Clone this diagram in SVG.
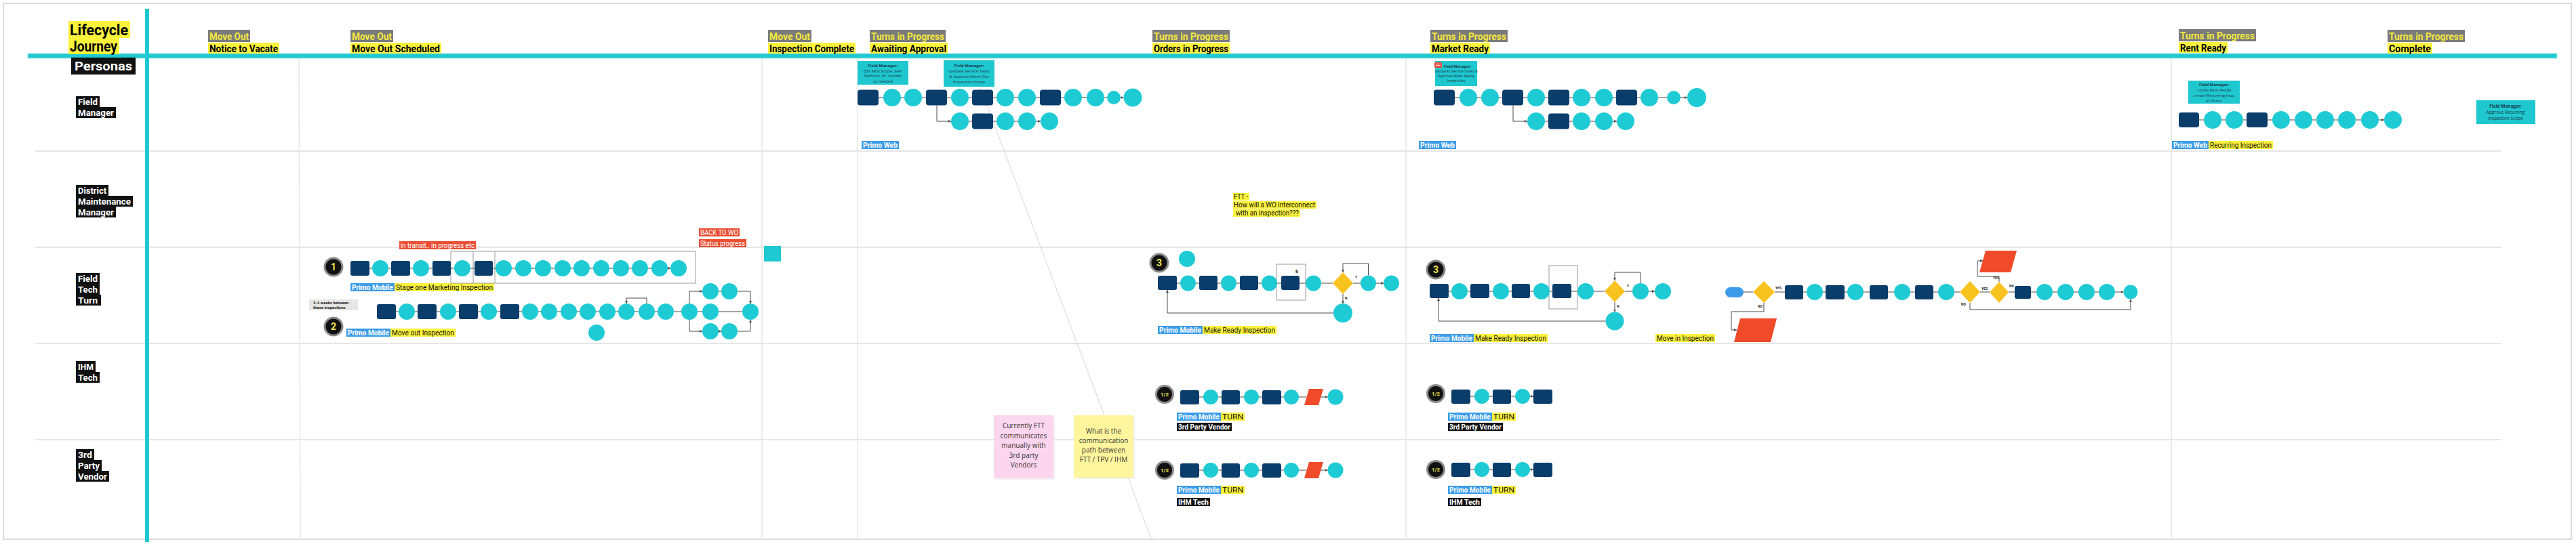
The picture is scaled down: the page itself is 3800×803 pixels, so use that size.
<svg xmlns="http://www.w3.org/2000/svg" width="3800" height="803" viewBox="0 0 3800 803">
<style>
.nr{fill:#0b3d6b}
.nc{fill:#1ecbd4}
.nd{fill:#f9c31f}
.np{fill:#ef4b2b}
.ln{stroke:#4a4a4a;stroke-width:1;fill:none}
.ar{marker-end:url(#m)}
.lane{stroke:#e6e6e6;stroke-width:2}
.col{stroke:#e6e6e6;stroke-width:1.5}
.hg{fill:#7b7b7b}
.hy{fill:#fbf23c}
.ht{font-family:Roboto,'Liberation Sans',sans-serif;font-weight:700;font-size:15px}
.pt{font-family:Roboto,'Liberation Sans',sans-serif;font-weight:700;font-size:13px;fill:#fff}
.pb{fill:#111}
.lb{fill:#3c9ce8}
.lbt{font-family:Roboto,'Liberation Sans',sans-serif;font-weight:700;font-size:11px;fill:#fff}
.lyt{font-family:Roboto,'Liberation Sans',sans-serif;font-size:11px;fill:#111}
.fm{fill:#1fc7cf}
.fmt{font-family:'Open Sans','Noto Sans',sans-serif;font-size:6px;fill:#1b3a4a;text-anchor:middle}
.bdg{fill:#111;stroke:#8a8a8a;stroke-width:3}
.bt{font-family:Roboto,'Liberation Sans',sans-serif;font-weight:700;fill:#f2e64a;text-anchor:middle}
.yn{font-family:Roboto,'Liberation Sans',sans-serif;font-weight:700;font-size:5px;fill:#222}
.frm{fill:none;stroke:#9a9a9a;stroke-width:1}
.st{font-family:'Open Sans','Noto Sans',sans-serif;font-size:10px;fill:#333;text-anchor:middle}
.rl{fill:#ea4f34}
.rlt{font-family:Roboto,'Liberation Sans',sans-serif;font-size:10px;fill:#fff}
</style>
<defs>
<marker id="m" viewBox="0 0 6 6" refX="6" refY="3" markerWidth="4" markerHeight="4" markerUnits="userSpaceOnUse" orient="auto"><path d="M0,0L6,3L0,6z" fill="#4a4a4a"/></marker>
</defs>
<rect x="0" y="0" width="3800" height="803" fill="#fff"/>
<rect x="5" y="5" width="3788" height="791" fill="none" stroke="#cfcfcf" stroke-width="1.5"/>

<!-- grid -->
<g id="grid">
<line class="lane" x1="52" y1="223" x2="3690" y2="223"/>
<line class="lane" x1="52" y1="365" x2="3690" y2="365"/>
<line class="lane" x1="52" y1="507" x2="3690" y2="507"/>
<line class="lane" x1="52" y1="649" x2="3690" y2="649"/>
<line class="col" x1="441" y1="86" x2="443" y2="797"/>
<line class="col" x1="1124" y1="86" x2="1124" y2="797"/>
<line class="col" x1="1265" y1="86" x2="1265" y2="797"/>
<line class="col" x1="2074" y1="86" x2="2074" y2="797"/>
<line class="col" x1="3203" y1="86" x2="3203" y2="797"/>
<line x1="1428" y1="82" x2="1700" y2="800" stroke="#d6d6d6" stroke-width="1"/>
<rect x="41" y="79" width="3731" height="7" fill="#1fc9d1" stroke="#9fe6ea" stroke-width="1"/>
<rect x="214" y="13" width="6" height="787" fill="#1fc9d1"/>
</g>

<!-- header -->
<g id="title">
<rect class="hy" x="101" y="31" width="91" height="25"/>
<rect class="hy" x="101" y="56" width="75" height="24"/>
<text class="ht" x="103" y="52" textLength="86" lengthAdjust="spacingAndGlyphs" style="font-size:22px">Lifecycle</text>
<text class="ht" x="103" y="76" textLength="70" lengthAdjust="spacingAndGlyphs" style="font-size:22px">Journey</text>
</g>
<g id="h1"><rect class="hg" x="307" y="44" width="62" height="18"/><text class="ht" x="309" y="59" fill="#f3e93c" textLength="58" lengthAdjust="spacingAndGlyphs">Move Out</text><rect class="hy" x="307" y="63" width="105" height="16"/><text class="ht" x="309" y="77" textLength="101" lengthAdjust="spacingAndGlyphs">Notice to Vacate</text></g>
<g id="h2"><rect class="hg" x="517" y="44" width="63" height="18"/><text class="ht" x="519" y="59" fill="#f3e93c" textLength="59" lengthAdjust="spacingAndGlyphs">Move Out</text><rect class="hy" x="517" y="63" width="134" height="16"/><text class="ht" x="519" y="77" textLength="130" lengthAdjust="spacingAndGlyphs">Move Out  Scheduled</text></g>
<g id="h3"><rect class="hg" x="1133" y="44" width="64" height="18"/><text class="ht" x="1135" y="59" fill="#f3e93c" textLength="60" lengthAdjust="spacingAndGlyphs">Move Out</text><rect class="hy" x="1133" y="63" width="129" height="16"/><text class="ht" x="1135" y="77" textLength="125" lengthAdjust="spacingAndGlyphs">Inspection Complete</text></g>
<g id="h4"><rect class="hg" x="1283" y="44" width="112" height="18"/><text class="ht" x="1285" y="59" fill="#f3e93c" textLength="108" lengthAdjust="spacingAndGlyphs">Turns in Progress</text><rect class="hy" x="1283" y="63" width="115" height="16"/><text class="ht" x="1285" y="77" textLength="111" lengthAdjust="spacingAndGlyphs">Awaiting Approval</text></g>
<g id="h5"><rect class="hg" x="1700" y="44" width="114" height="18"/><text class="ht" x="1702" y="59" fill="#f3e93c" textLength="110" lengthAdjust="spacingAndGlyphs">Turns in Progress</text><rect class="hy" x="1700" y="63" width="114" height="16"/><text class="ht" x="1702" y="77" textLength="110" lengthAdjust="spacingAndGlyphs">Orders in Progress</text></g>
<g id="h6"><rect class="hg" x="2110" y="44" width="114" height="18"/><text class="ht" x="2112" y="59" fill="#f3e93c" textLength="110" lengthAdjust="spacingAndGlyphs">Turns in Progress</text><rect class="hy" x="2110" y="63" width="88" height="16"/><text class="ht" x="2112" y="77" textLength="84" lengthAdjust="spacingAndGlyphs">Market Ready</text></g>
<g id="h7"><rect class="hg" x="3214" y="43" width="114" height="18"/><text class="ht" x="3216" y="58" fill="#f3e93c" textLength="110" lengthAdjust="spacingAndGlyphs">Turns in Progress</text><rect class="hy" x="3214" y="62" width="72" height="16"/><text class="ht" x="3216" y="76" textLength="68" lengthAdjust="spacingAndGlyphs">Rent Ready</text></g>
<g id="h8"><rect class="hg" x="3522" y="44" width="114" height="18"/><text class="ht" x="3524" y="59" fill="#f3e93c" textLength="110" lengthAdjust="spacingAndGlyphs">Turns in Progress</text><rect class="hy" x="3522" y="63" width="66" height="16"/><text class="ht" x="3524" y="77" textLength="62" lengthAdjust="spacingAndGlyphs">Complete</text></g>

<!-- personas -->
<g id="personas"><rect class="pb" x="105" y="85" width="95" height="25"/><text class="pt" x="110" y="104" style="font-size:18px" textLength="85" lengthAdjust="spacingAndGlyphs">Personas</text></g>
<g id="p-fm"><rect class="pb" x="112" y="142" width="35" height="16"/><rect class="pb" x="112" y="158" width="59" height="16"/><text class="pt" x="115" y="155" textLength="29" lengthAdjust="spacingAndGlyphs">Field</text><text class="pt" x="115" y="171" textLength="53" lengthAdjust="spacingAndGlyphs">Manager</text></g>
<g id="p-dmm"><rect class="pb" x="112" y="273" width="48" height="16"/><rect class="pb" x="112" y="289" width="84" height="16"/><rect class="pb" x="112" y="305" width="59" height="16"/><text class="pt" x="115" y="286" textLength="42" lengthAdjust="spacingAndGlyphs">District</text><text class="pt" x="115" y="302" textLength="78" lengthAdjust="spacingAndGlyphs">Maintenance</text><text class="pt" x="115" y="318" textLength="53" lengthAdjust="spacingAndGlyphs">Manager</text></g>
<g id="p-ftt"><rect class="pb" x="112" y="403" width="35" height="16"/><rect class="pb" x="112" y="419" width="35" height="16"/><rect class="pb" x="112" y="435" width="37" height="16"/><text class="pt" x="115" y="416" textLength="29" lengthAdjust="spacingAndGlyphs">Field</text><text class="pt" x="115" y="432" textLength="29" lengthAdjust="spacingAndGlyphs">Tech</text><text class="pt" x="115" y="448" textLength="29" lengthAdjust="spacingAndGlyphs">Turn</text></g>
<g id="p-ihm"><rect class="pb" x="112" y="533" width="29" height="16"/><rect class="pb" x="112" y="549" width="35" height="16"/><text class="pt" x="115" y="546" textLength="23" lengthAdjust="spacingAndGlyphs">IHM</text><text class="pt" x="115" y="562" textLength="29" lengthAdjust="spacingAndGlyphs">Tech</text></g>
<g id="p-3pv"><rect class="pb" x="112" y="663" width="27" height="16"/><rect class="pb" x="112" y="679" width="38" height="16"/><rect class="pb" x="112" y="695" width="49" height="16"/><text class="pt" x="115" y="676" textLength="21" lengthAdjust="spacingAndGlyphs">3rd</text><text class="pt" x="115" y="692" textLength="32" lengthAdjust="spacingAndGlyphs">Party</text><text class="pt" x="115" y="708" textLength="43" lengthAdjust="spacingAndGlyphs">Vendor</text></g>

<!-- Field manager notes -->
<g id="fmA1"><rect class="fm" x="1265" y="90" width="75" height="35"/><text class="fmt" x="1302.5" y="98.5" font-weight="700">Field Manager:</text><text class="fmt" x="1302.5" y="106.5">Edit MOI Scope, Self-</text><text class="fmt" x="1302.5" y="114">Perform, IH, Vendor</text><text class="fmt" x="1302.5" y="121.5">as needed</text></g>
<g id="fmA2"><rect class="fm" x="1392" y="89" width="75" height="39"/><text class="fmt" x="1429.5" y="98.5" font-weight="700">Field Manager:</text><text class="fmt" x="1429.5" y="107">Validate Service Tasks</text><text class="fmt" x="1429.5" y="115">&amp; Approve Move Out</text><text class="fmt" x="1429.5" y="123">Inspection Scope</text></g>
<g id="fmB"><rect class="fm" x="2117" y="90" width="62" height="37"/><rect x="2116" y="92" width="11" height="8" rx="1.5" fill="#e8483f"/><path d="M2118,94.5h7M2118,96.5h7" stroke="#fff" stroke-width="0.8"/><text class="fmt" x="2150" y="100" font-weight="700" style="font-size:5.5px">Field Manager:</text><text class="fmt" x="2148" y="107" style="font-size:5.5px">Validates Service Tasks &amp;</text><text class="fmt" x="2148" y="114" style="font-size:5.5px">Approve Make Ready</text><text class="fmt" x="2148" y="121" style="font-size:5.5px">Inspection</text></g>
<g id="fmC1"><rect class="fm" x="3228" y="119" width="76" height="34"/><text class="fmt" x="3266" y="127" font-weight="700">Field Manager:</text><text class="fmt" x="3266" y="135">&lt;2wks Rent Ready</text><text class="fmt" x="3266" y="143">create Recurring Insp</text><text class="fmt" x="3266" y="151">in Primo</text></g>
<g id="fmC2"><rect class="fm" x="3653" y="148" width="87" height="35"/><text class="fmt" x="3696" y="159" font-weight="700" style="font-size:6.5px">Field Manager:</text><text class="fmt" x="3696" y="168" style="font-size:6.5px">Approve Recurring</text><text class="fmt" x="3696" y="177" style="font-size:6.5px">Inspection Scope</text></g>

<!-- labels -->
<g id="lbA"><rect class="lb" x="1271" y="208" width="55" height="12"/><text class="lbt" x="1273" y="218" textLength="51" lengthAdjust="spacingAndGlyphs">Primo Web</text></g>
<g id="lbB"><rect class="lb" x="2093" y="208" width="55" height="12"/><text class="lbt" x="2095" y="218" textLength="51" lengthAdjust="spacingAndGlyphs">Primo Web</text></g>
<g id="lbC"><rect class="lb" x="3204" y="208" width="54" height="12"/><text class="lbt" x="3206" y="218" textLength="50" lengthAdjust="spacingAndGlyphs">Primo Web</text><rect class="hy" x="3258" y="208" width="95" height="12"/><text class="lyt" x="3260" y="218" textLength="91" lengthAdjust="spacingAndGlyphs">Recurring Inspection</text></g>
<g id="lbD1"><rect class="lb" x="517" y="418" width="65" height="12"/><text class="lbt" x="519" y="428" textLength="61" lengthAdjust="spacingAndGlyphs">Primo Mobile</text><rect class="hy" x="582" y="418" width="147" height="12"/><text class="lyt" x="584" y="428" textLength="143" lengthAdjust="spacingAndGlyphs">Stage one Marketing Inspection</text></g>
<g id="lbD2"><rect class="lb" x="511" y="485" width="65" height="12"/><text class="lbt" x="513" y="495" textLength="61" lengthAdjust="spacingAndGlyphs">Primo Mobile</text><rect class="hy" x="576" y="485" width="96" height="12"/><text class="lyt" x="578" y="495" textLength="92" lengthAdjust="spacingAndGlyphs">Move out Inspection</text></g>
<g id="lbE"><rect class="lb" x="1708" y="481" width="66" height="12"/><text class="lbt" x="1710" y="491" textLength="62" lengthAdjust="spacingAndGlyphs">Primo Mobile</text><rect class="hy" x="1774" y="481" width="109" height="12"/><text class="lyt" x="1776" y="491" textLength="105" lengthAdjust="spacingAndGlyphs">Make Ready Inspection</text></g>
<g id="lbF"><rect class="lb" x="2109" y="493" width="65" height="12"/><text class="lbt" x="2111" y="503" textLength="61" lengthAdjust="spacingAndGlyphs">Primo Mobile</text><rect class="hy" x="2174" y="493" width="109" height="12"/><text class="lyt" x="2176" y="503" textLength="105" lengthAdjust="spacingAndGlyphs">Make Ready Inspection</text></g>
<g id="lbG"><rect class="hy" x="2442" y="493" width="88" height="12"/><text class="lyt" x="2444" y="503" textLength="84" lengthAdjust="spacingAndGlyphs">Move in Inspection</text></g>
<g id="lbH"><rect class="lb" x="1736" y="609" width="65" height="12"/><text class="lbt" x="1738" y="619" textLength="61" lengthAdjust="spacingAndGlyphs">Primo Mobile</text><rect class="hy" x="1801" y="609" width="35" height="12"/><text class="lyt" x="1803" y="619" textLength="31" lengthAdjust="spacingAndGlyphs">TURN</text><rect class="pb" x="1736" y="624" width="81" height="12"/><text class="lbt" x="1738" y="634" textLength="77" lengthAdjust="spacingAndGlyphs">3rd Party Vendor</text></g>
<g id="lbI"><rect class="lb" x="1736" y="717" width="65" height="12"/><text class="lbt" x="1738" y="727" textLength="61" lengthAdjust="spacingAndGlyphs">Primo Mobile</text><rect class="hy" x="1801" y="717" width="35" height="12"/><text class="lyt" x="1803" y="727" textLength="31" lengthAdjust="spacingAndGlyphs">TURN</text><rect class="pb" x="1736" y="735" width="49" height="12"/><text class="lbt" x="1738" y="745" textLength="45" lengthAdjust="spacingAndGlyphs">IHM Tech</text></g>
<g id="lbJ"><rect class="lb" x="2136" y="609" width="65" height="12"/><text class="lbt" x="2138" y="619" textLength="61" lengthAdjust="spacingAndGlyphs">Primo Mobile</text><rect class="hy" x="2201" y="609" width="35" height="12"/><text class="lyt" x="2203" y="619" textLength="31" lengthAdjust="spacingAndGlyphs">TURN</text><rect class="pb" x="2136" y="624" width="81" height="12"/><text class="lbt" x="2138" y="634" textLength="77" lengthAdjust="spacingAndGlyphs">3rd Party Vendor</text></g>
<g id="lbK"><rect class="lb" x="2136" y="717" width="65" height="12"/><text class="lbt" x="2138" y="727" textLength="61" lengthAdjust="spacingAndGlyphs">Primo Mobile</text><rect class="hy" x="2201" y="717" width="35" height="12"/><text class="lyt" x="2203" y="727" textLength="31" lengthAdjust="spacingAndGlyphs">TURN</text><rect class="pb" x="2136" y="735" width="49" height="12"/><text class="lbt" x="2138" y="745" textLength="45" lengthAdjust="spacingAndGlyphs">IHM Tech</text></g>

<g id="note-transit"><rect class="rl" x="589" y="356" width="113" height="12"/><text class="rlt" x="591" y="366" textLength="109" lengthAdjust="spacingAndGlyphs">in transit.. in progress etc</text></g>
<g id="note-back"><rect class="rl" x="1031" y="337" width="60" height="12"/><text class="rlt" x="1033" y="347" textLength="56" lengthAdjust="spacingAndGlyphs">BACK TO WO</text><rect class="rl" x="1031" y="353" width="70" height="12"/><text class="rlt" x="1033" y="363" textLength="66" lengthAdjust="spacingAndGlyphs">Status progress</text></g>
<g id="tealsq"><rect x="1127" y="363" width="25" height="23" fill="#1fc9d1"/></g>
<g id="note-weeks"><rect x="456" y="442" width="72" height="16" fill="#e6e6e6"/><text class="yn" x="462" y="449" style="font-size:6px">3-4 weeks between</text><text class="yn" x="462" y="456" style="font-size:6px">these inspections</text></g>
<g id="note-ftt"><rect class="hy" x="1819" y="285" width="24" height="11"/><rect class="hy" x="1819" y="297" width="123" height="11"/><rect class="hy" x="1819" y="309" width="99" height="11"/><text class="lyt" x="1820" y="294" style="font-size:10.5px" textLength="21" lengthAdjust="spacingAndGlyphs">FTT -</text><text class="lyt" x="1820" y="306" style="font-size:10.5px" textLength="120" lengthAdjust="spacingAndGlyphs">How will a WO interconnect</text><text class="lyt" x="1823" y="318" style="font-size:10.5px" textLength="93" lengthAdjust="spacingAndGlyphs">with an inspection???</text></g>
<g id="sticky-pink"><rect x="1468" y="615" width="88" height="93" fill="#e8e8e8" opacity="0.6"/><rect x="1466" y="613" width="88" height="93" fill="#fcd5ef"/><text class="st" x="1510" y="632">Currently FTT</text><text class="st" x="1510" y="647">communicates</text><text class="st" x="1510" y="661">manually with</text><text class="st" x="1510" y="676">3rd party</text><text class="st" x="1510" y="690">Vendors</text></g>
<g id="sticky-yellow"><rect x="1586" y="615" width="88" height="92" fill="#e8e8e8" opacity="0.6"/><rect x="1584" y="613" width="88" height="92" fill="#fff59d"/><text class="st" x="1628" y="640">What is the</text><text class="st" x="1628" y="654">communication</text><text class="st" x="1628" y="668">path between</text><text class="st" x="1628" y="682">FTT / TPV / IHM</text></g>

<!-- badges -->
<g id="bd1"><circle class="bdg" cx="492" cy="394" r="13"/><text class="bt" x="492" y="399" font-size="14">1</text></g>
<g id="bd2"><circle class="bdg" cx="492" cy="482" r="13"/><text class="bt" x="492" y="487" font-size="14">2</text></g>
<g id="bd3a"><circle class="bdg" cx="1710" cy="388" r="13"/><text class="bt" x="1710" y="393" font-size="14">3</text></g>
<g id="bd3b"><circle class="bdg" cx="2118" cy="398" r="13"/><text class="bt" x="2118" y="403" font-size="14">3</text></g>
<g id="bdH"><circle class="bdg" cx="1718" cy="582" r="12.5"/><text class="bt" x="1718" y="585" font-size="8">1/2</text></g>
<g id="bdI"><circle class="bdg" cx="1718" cy="694" r="12.5"/><text class="bt" x="1718" y="697" font-size="8">1/2</text></g>
<g id="bdJ"><circle class="bdg" cx="2118" cy="581" r="12.5"/><text class="bt" x="2118" y="584" font-size="8">1/2</text></g>
<g id="bdK"><circle class="bdg" cx="2118" cy="693" r="12.5"/><text class="bt" x="2118" y="696" font-size="8">1/2</text></g>

<!-- frames -->
<g id="frames">
<rect class="frm" x="665" y="371" width="361" height="47"/>
<line class="frm" x1="698" y1="371" x2="698" y2="418"/>
<line class="frm" x1="730" y1="371" x2="730" y2="418"/>
<rect class="frm" x="1883" y="390" width="43" height="53"/>
<text class="yn" x="1911" y="402" style="font-size:6px">§</text>
<rect class="frm" x="2285" y="392" width="42" height="64"/>
</g>

<!-- nodes cluster A -->
<g id="A">
<g id="a1"><rect class="nr" x="1265" y="132.5" width="31" height="23" rx="4"/></g>
<g id="a2"><circle class="nc" cx="1316" cy="144" r="13"/></g>
<g id="a3"><circle class="nc" cx="1347" cy="144" r="13"/></g>
<g id="a4"><rect class="nr" x="1366" y="132.5" width="31" height="23" rx="4"/></g>
<g id="a5"><circle class="nc" cx="1416" cy="144" r="13"/></g>
<g id="a6"><rect class="nr" x="1434" y="132.5" width="31" height="23" rx="4"/></g>
<g id="a7"><circle class="nc" cx="1483" cy="144" r="13"/></g>
<g id="a8"><circle class="nc" cx="1515" cy="144" r="13"/></g>
<g id="a9"><rect class="nr" x="1534" y="132.5" width="31" height="23" rx="4"/></g>
<g id="a10"><circle class="nc" cx="1583" cy="144" r="13"/></g>
<g id="a11"><circle class="nc" cx="1616" cy="144" r="13"/></g>
<g id="a12"><circle class="nc" cx="1643" cy="144" r="10"/></g>
<g id="a13"><circle class="nc" cx="1671" cy="144" r="13.5"/></g>
<g id="b1"><circle class="nc" cx="1416" cy="179" r="13"/></g>
<g id="b2"><rect class="nr" x="1434" y="167.5" width="31" height="23" rx="4"/></g>
<g id="b3"><circle class="nc" cx="1483" cy="179" r="13"/></g>
<g id="b4"><circle class="nc" cx="1515" cy="179" r="13"/></g>
<g id="b5"><circle class="nc" cx="1548" cy="179" r="13"/></g>
</g>
<!-- cluster B -->
<g id="B">
<g id="m1"><rect class="nr" x="2115" y="132.5" width="31" height="23" rx="4"/></g>
<g id="m2"><circle class="nc" cx="2166" cy="144" r="13"/></g>
<g id="m3"><circle class="nc" cx="2198" cy="144" r="13"/></g>
<g id="m4"><rect class="nr" x="2216" y="132.5" width="31" height="23" rx="4"/></g>
<g id="m5"><circle class="nc" cx="2266" cy="144" r="13"/></g>
<g id="m6"><rect class="nr" x="2284" y="132.5" width="31" height="23" rx="4"/></g>
<g id="m7"><circle class="nc" cx="2333" cy="144" r="13"/></g>
<g id="m8"><circle class="nc" cx="2366" cy="144" r="13"/></g>
<g id="m9"><rect class="nr" x="2384" y="132.5" width="31" height="23" rx="4"/></g>
<g id="m10"><circle class="nc" cx="2433" cy="144" r="13"/></g>
<g id="m11"><circle class="nc" cx="2469" cy="144" r="10"/></g>
<g id="m12"><circle class="nc" cx="2503" cy="144" r="14"/></g>
<g id="n1"><circle class="nc" cx="2266" cy="179" r="13"/></g>
<g id="n2"><rect class="nr" x="2284" y="167.5" width="31" height="23" rx="4"/></g>
<g id="n3"><circle class="nc" cx="2333" cy="179" r="13"/></g>
<g id="n4"><circle class="nc" cx="2366" cy="179" r="13"/></g>
<g id="n5"><circle class="nc" cx="2398" cy="179" r="13"/></g>
</g>
<!-- cluster C -->
<g id="C">
<g id="r1"><rect class="nr" x="3214" y="166" width="30" height="22" rx="4"/></g>
<g id="r2"><circle class="nc" cx="3264" cy="177" r="13"/></g>
<g id="r3"><circle class="nc" cx="3296" cy="177" r="13"/></g>
<g id="r4"><rect class="nr" x="3314" y="166" width="31" height="22" rx="4"/></g>
<g id="r5"><circle class="nc" cx="3365" cy="177" r="13"/></g>
<g id="r6"><circle class="nc" cx="3398" cy="177" r="13"/></g>
<g id="r7"><circle class="nc" cx="3430" cy="177" r="13"/></g>
<g id="r8"><circle class="nc" cx="3462" cy="177" r="13"/></g>
<g id="r9"><circle class="nc" cx="3496" cy="177" r="13"/></g>
<g id="r10"><circle class="nc" cx="3530" cy="177" r="13"/></g>
</g>
<!-- cluster D -->
<g id="D">
<g id="t1"><rect class="nr" x="517" y="385" width="28" height="22" rx="3"/></g>
<g id="t2"><circle class="nc" cx="561" cy="396" r="12"/></g>
<g id="t3"><rect class="nr" x="577" y="385" width="28" height="22" rx="3"/></g>
<g id="t4"><circle class="nc" cx="621" cy="396" r="12"/></g>
<g id="t5"><rect class="nr" x="638" y="385" width="27" height="22" rx="3"/></g>
<g id="t6"><circle class="nc" cx="682" cy="396" r="12"/></g>
<g id="t7"><rect class="nr" x="700" y="385" width="27" height="22" rx="3"/></g>
<g id="t8"><circle class="nc" cx="743" cy="396" r="12"/></g>
<g id="t9"><circle class="nc" cx="772" cy="396" r="12"/></g>
<g id="t10"><circle class="nc" cx="801" cy="396" r="12"/></g>
<g id="t11"><circle class="nc" cx="830" cy="396" r="12"/></g>
<g id="t12"><circle class="nc" cx="858" cy="396" r="12"/></g>
<g id="t13"><circle class="nc" cx="887" cy="396" r="12"/></g>
<g id="t14"><circle class="nc" cx="916" cy="396" r="12"/></g>
<g id="t15"><circle class="nc" cx="944" cy="396" r="12"/></g>
<g id="t16"><circle class="nc" cx="973" cy="396" r="12"/></g>
<g id="t17"><circle class="nc" cx="1001" cy="396" r="12"/></g>
<g id="u1"><rect class="nr" x="556" y="449" width="28" height="22" rx="3"/></g>
<g id="u2"><circle class="nc" cx="600" cy="460" r="12"/></g>
<g id="u3"><rect class="nr" x="616" y="449" width="28" height="22" rx="3"/></g>
<g id="u4"><circle class="nc" cx="661" cy="460" r="12"/></g>
<g id="u5"><rect class="nr" x="677" y="449" width="28" height="22" rx="3"/></g>
<g id="u6"><circle class="nc" cx="721" cy="460" r="12"/></g>
<g id="u7"><rect class="nr" x="738" y="449" width="28" height="22" rx="3"/></g>
<g id="u8"><circle class="nc" cx="782" cy="460" r="12"/></g>
<g id="u9"><circle class="nc" cx="810" cy="460" r="12"/></g>
<g id="u10"><circle class="nc" cx="839" cy="460" r="12"/></g>
<g id="u11"><circle class="nc" cx="867" cy="460" r="12"/></g>
<g id="u12"><circle class="nc" cx="896" cy="460" r="12"/></g>
<g id="u13"><circle class="nc" cx="924" cy="460" r="12"/></g>
<g id="u14"><circle class="nc" cx="954" cy="460" r="12"/></g>
<g id="u15"><circle class="nc" cx="982" cy="460" r="12"/></g>
<g id="u16"><circle class="nc" cx="1017" cy="460" r="12"/></g>
<g id="v1"><circle class="nc" cx="1048" cy="430" r="12"/></g>
<g id="v2"><circle class="nc" cx="1076" cy="430" r="12"/></g>
<g id="v3"><circle class="nc" cx="1048" cy="460" r="12"/></g>
<g id="v4"><circle class="nc" cx="1048" cy="489" r="12"/></g>
<g id="v5"><circle class="nc" cx="1076" cy="489" r="12"/></g>
<g id="u17"><circle class="nc" cx="1107" cy="460" r="12"/></g>
<g id="w1"><circle class="nc" cx="880" cy="491" r="12"/></g>
</g>
<!-- cluster E -->
<g id="E">
<g id="es"><circle class="nc" cx="1751" cy="382" r="12"/></g>
<g id="e1"><rect class="nr" x="1708" y="407" width="28" height="21" rx="3"/></g>
<g id="e2"><circle class="nc" cx="1752.5" cy="418" r="11.5"/></g>
<g id="e3"><rect class="nr" x="1769" y="407" width="27" height="21" rx="3"/></g>
<g id="e4"><circle class="nc" cx="1812.5" cy="418" r="11.5"/></g>
<g id="e5"><rect class="nr" x="1829" y="407" width="27" height="21" rx="3"/></g>
<g id="e6"><circle class="nc" cx="1872.5" cy="418" r="11.5"/></g>
<g id="e7"><rect class="nr" x="1890" y="407" width="27" height="21" rx="3"/></g>
<g id="e8"><circle class="nc" cx="1937.5" cy="418" r="11.5"/></g>
<g id="e9"><path class="nd" d="M1981,402L1996,418L1981,434L1966,418z"/></g>
<g id="e10"><circle class="nc" cx="2018.5" cy="418" r="11.5"/></g>
<g id="e11"><circle class="nc" cx="2052.5" cy="418" r="11.5"/></g>
<g id="e12"><circle class="nc" cx="1981" cy="462" r="14"/></g>
<text class="yn" x="1999" y="411">Y</text><text class="yn" x="1984" y="442">N</text>
</g>
<!-- cluster F -->
<g id="F">
<g id="f1"><rect class="nr" x="2109" y="419" width="28" height="21" rx="3"/></g>
<g id="f2"><circle class="nc" cx="2153" cy="430" r="12"/></g>
<g id="f3"><rect class="nr" x="2169" y="419" width="28" height="21" rx="3"/></g>
<g id="f4"><circle class="nc" cx="2214" cy="430" r="12"/></g>
<g id="f5"><rect class="nr" x="2230" y="419" width="27" height="21" rx="3"/></g>
<g id="f6"><circle class="nc" cx="2274" cy="430" r="12"/></g>
<g id="f7"><rect class="nr" x="2290" y="419" width="28" height="21" rx="3"/></g>
<g id="f8"><circle class="nc" cx="2339" cy="430" r="12"/></g>
<g id="f9"><path class="nd" d="M2382,414L2397,430L2382,446L2367,430z"/></g>
<g id="f10"><circle class="nc" cx="2420" cy="430" r="12"/></g>
<g id="f11"><circle class="nc" cx="2453" cy="430" r="12"/></g>
<g id="f12"><circle class="nc" cx="2382" cy="474" r="13.5"/></g>
<text class="yn" x="2400" y="424">Y</text><text class="yn" x="2385" y="454">N</text>
</g>
<!-- cluster G -->
<g id="G">
<g id="g0"><rect x="2545" y="424" width="27" height="15" rx="7.5" fill="#3d9be9"/></g>
<g id="g1"><path class="nd" d="M2602,415L2618,431L2602,447L2586,431z"/></g>
<g id="gp1"><path class="np" d="M2567,470L2621,470L2612,505L2558,505z"/></g>
<g id="g2"><rect class="nr" x="2633" y="421" width="27" height="21" rx="3"/></g>
<g id="g3"><circle class="nc" cx="2677" cy="431" r="12"/></g>
<g id="g4"><rect class="nr" x="2693" y="421" width="28" height="21" rx="3"/></g>
<g id="g5"><circle class="nc" cx="2737" cy="431" r="12"/></g>
<g id="g6"><rect class="nr" x="2758" y="421" width="27" height="21" rx="3"/></g>
<g id="g7"><circle class="nc" cx="2806" cy="431" r="12"/></g>
<g id="g8"><rect class="nr" x="2825" y="421" width="27" height="21" rx="3"/></g>
<g id="g9"><circle class="nc" cx="2871" cy="431" r="12"/></g>
<g id="g10"><path class="nd" d="M2906,415L2921,431L2906,447L2891,431z"/></g>
<g id="g11"><path class="nd" d="M2949,416L2963,431.5L2949,447L2935,431.5z"/></g>
<g id="gp2"><path class="np" d="M2929,370L2975,370L2966,402L2920,402z"/></g>
<g id="g12"><rect class="nr" x="2972" y="422" width="24" height="19" rx="3"/></g>
<g id="g13"><circle class="nc" cx="3016" cy="431" r="12"/></g>
<g id="g14"><circle class="nc" cx="3047" cy="431" r="12"/></g>
<g id="g15"><circle class="nc" cx="3078" cy="431" r="12"/></g>
<g id="g16"><circle class="nc" cx="3108" cy="431" r="12"/></g>
<g id="g17"><circle class="nc" cx="3143" cy="431" r="10.5"/></g>
<text class="yn" x="2619" y="427">YES</text><text class="yn" x="2593" y="454">NO</text>
<text class="yn" x="2923" y="428">YES</text><text class="yn" x="2940" y="412">YES</text><text class="yn" x="2964" y="424">NO</text><text class="yn" x="2893" y="451">NO</text>
</g>
<!-- clusters H, I, J, K -->
<g id="H">
<g id="h1n"><rect class="nr" x="1741" y="576" width="28" height="21" rx="3"/></g>
<g id="h2n"><circle class="nc" cx="1786" cy="586" r="11"/></g>
<g id="h3n"><rect class="nr" x="1802" y="576" width="27" height="21" rx="3"/></g>
<g id="h4n"><circle class="nc" cx="1846" cy="586" r="11"/></g>
<g id="h5n"><rect class="nr" x="1862" y="576" width="28" height="21" rx="3"/></g>
<g id="h6n"><circle class="nc" cx="1905" cy="586" r="11"/></g>
<g id="h7n"><path class="np" d="M1931,574L1952,574L1945,598L1924,598z"/></g>
<g id="h8n"><circle class="nc" cx="1970" cy="586" r="11.5"/></g>
</g>
<g id="I">
<g id="i1n"><rect class="nr" x="1741" y="684" width="28" height="21" rx="3"/></g>
<g id="i2n"><circle class="nc" cx="1786" cy="694" r="11"/></g>
<g id="i3n"><rect class="nr" x="1802" y="684" width="27" height="21" rx="3"/></g>
<g id="i4n"><circle class="nc" cx="1846" cy="694" r="11"/></g>
<g id="i5n"><rect class="nr" x="1862" y="684" width="28" height="21" rx="3"/></g>
<g id="i6n"><circle class="nc" cx="1905" cy="694" r="11"/></g>
<g id="i7n"><path class="np" d="M1931,682L1952,682L1945,706L1924,706z"/></g>
<g id="i8n"><circle class="nc" cx="1970" cy="694" r="11.5"/></g>
</g>
<g id="J">
<g id="j1n"><rect class="nr" x="2141" y="575" width="28" height="21" rx="3"/></g>
<g id="j2n"><circle class="nc" cx="2186" cy="585" r="11"/></g>
<g id="j3n"><rect class="nr" x="2202" y="575" width="27" height="21" rx="3"/></g>
<g id="j4n"><circle class="nc" cx="2246" cy="585" r="11"/></g>
<g id="j5n"><rect class="nr" x="2262" y="575" width="28" height="21" rx="3"/></g>
</g>
<g id="K">
<g id="k1n"><rect class="nr" x="2141" y="683" width="28" height="21" rx="3"/></g>
<g id="k2n"><circle class="nc" cx="2186" cy="693" r="11"/></g>
<g id="k3n"><rect class="nr" x="2202" y="683" width="27" height="21" rx="3"/></g>
<g id="k4n"><circle class="nc" cx="2246" cy="693" r="11"/></g>
<g id="k5n"><rect class="nr" x="2262" y="683" width="28" height="21" rx="3"/></g>
</g>

<!-- connectors -->
<g id="connectors">
<path class="ln ar" d="M1296,144H1303M1329,144H1334M1360,144H1366M1397,144H1403M1429,144H1434M1465,144H1470M1496,144H1502M1528,144H1534M1565,144H1570M1596,144H1603M1629,144H1633M1653,144H1657.5"/>
<path class="ln ar" d="M1382,155.5V179H1403"/>
<path class="ln ar" d="M1429,179H1434M1465,179H1470M1496,179H1502M1528,179H1535"/>
<path class="ln ar" d="M2146,144H2153M2179,144H2185M2211,144H2216M2247,144H2253M2279,144H2284M2315,144H2320M2346,144H2353M2379,144H2384M2415,144H2420M2446,144H2459M2479,144H2489"/>
<path class="ln ar" d="M2232,155.5V179H2253"/>
<path class="ln ar" d="M2279,179H2284M2315,179H2320M2346,179H2353M2379,179H2385"/>
<path class="ln ar" d="M3244,177H3251M3277,177H3283M3309,177H3314M3345,177H3352M3378,177H3385M3411,177H3417M3443,177H3449M3475,177H3483M3509,177H3517"/>
<path class="ln ar" d="M545,396H549M573,396H577M605,396H609M633,396H638M665,396H670M694,396H700M727,396H731M755,396H760M784,396H789M813,396H818M842,396H846M870,396H875M899,396H904M928,396H932M956,396H961M985,396H989"/>
<path class="ln ar" d="M584,460H588M612,460H616M644,460H649M673,460H677M705,460H709M733,460H738M766,460H770M794,460H798M822,460H827M851,460H855M879,460H884M908,460H912M936,460H942M966,460H970M994,460H1005M1029,460H1036M1060,460H1095M1060,430H1064M1060,489H1064"/>
<path class="ln ar" d="M1017,448V430H1036"/>
<path class="ln ar" d="M1017,472V489H1036"/>
<path class="ln ar" d="M1088,430H1107V448"/>
<path class="ln ar" d="M1088,489H1107V472"/>
<path class="ln ar" d="M954,448V440H924V448"/>
<path class="ln ar" d="M1736,418H1741M1764,418H1769M1796,418H1801M1824,418H1829M1856,418H1861M1884,418H1890M1917,418H1926M1949,418H1966M1996,418H2007M2030,418H2041"/>
<path class="ln ar" d="M2018.5,406.5V389H1981V402"/>
<path class="ln ar" d="M1981,434V448"/>
<path class="ln ar" d="M1967,462H1722V428"/>
<path class="ln ar" d="M2137,430H2141M2165,430H2169M2197,430H2202M2226,430H2230M2257,430H2262M2286,430H2290M2318,430H2327M2351,430H2367M2397,430H2408M2432,430H2441"/>
<path class="ln ar" d="M2420,418V402H2382V414"/>
<path class="ln ar" d="M2382,446V460.5"/>
<path class="ln ar" d="M2368.5,474H2122V440"/>
<path class="ln ar" d="M2572,431H2586M2618,431H2633M2660,431H2665M2689,431H2693M2721,431H2725M2749,431H2758M2785,431H2794M2818,431H2825M2852,431H2859M2883,431H2891M2921,431H2935M2963,431H2972M2996,431H3004M3028,431H3035M3059,431H3066M3090,431H3096M3120,431H3132.5"/>
<path class="ln ar" d="M2602,447V460H2554V487H2562"/>
<path class="ln ar" d="M2949,416V408H2917V385H2925"/>
<path class="ln ar" d="M2906,447V457H3143V441.5"/>
<path class="ln ar" d="M1769,586H1775M1797,586H1802M1829,586H1835M1857,586H1862M1890,586H1894M1916,586H1927M1948,586H1958.5"/>
<path class="ln ar" d="M1769,694H1775M1797,694H1802M1829,694H1835M1857,694H1862M1890,694H1894M1916,694H1927M1948,694H1958.5"/>
<path class="ln ar" d="M2169,585H2175M2197,585H2202M2229,585H2235M2257,585H2262"/>
<path class="ln ar" d="M2169,693H2175M2197,693H2202M2229,693H2235M2257,693H2262"/>
</g>
</svg>
